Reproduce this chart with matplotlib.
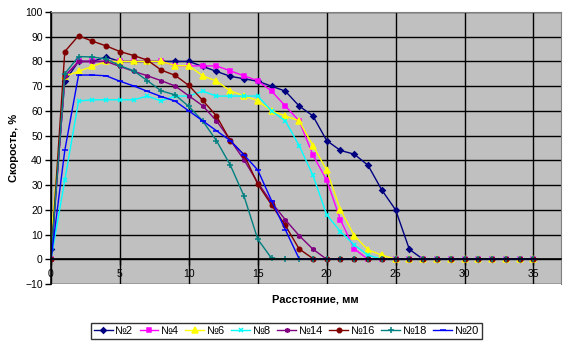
import matplotlib
matplotlib.use("Agg")
import matplotlib.pyplot as plt
import numpy as np

plt.rcParams['font.family'] = ['Liberation Sans', 'DejaVu Sans']

# Расстояние, мм
x = [0, 1, 2, 3, 4, 5, 6, 7, 8, 9, 10, 11, 12, 13, 14, 15, 16, 17, 18,
     19, 20, 21, 22, 23, 24, 25, 26, 27, 28, 29, 30, 31, 32, 33, 34, 35]

# Скорость, % for each sample
s2 = [4, 72, 80, 80, 81.8, 80, 80, 80, 80, 80, 80, 78, 76, 74, 73, 72, 70, 68, 62,
      58, 48, 44, 42.5, 38, 28, 20, 4, 0, 0, 0, 0, 0, 0, 0, 0, 0]
s4 = [0, 74, 80, 80, 80, 80, 80, 80, 80, 78.3, 78.2, 78.2, 78.2, 76.2, 74.2, 72.2, 68, 62, 56,
      42.2, 32, 16, 4.2, 0, 0, 0, 0, 0, 0, 0, 0, 0, 0, 0, 0, 0]
s6 = [8, 74, 76, 78, 80, 80, 80, 80, 80, 78.3, 78.3, 74.2, 72.1, 68.1, 66.1, 64.1, 60, 58, 56,
      46, 36, 20, 9.6, 3.8, 1.7, 0, 0, 0, 0, 0, 0, 0, 0, 0, 0, 0]
s8 = [0, 32, 64, 64.5, 64.5, 64.5, 64.5, 66, 64, 66, 66, 68, 66, 66, 66, 66, 60, 56, 46,
      34, 18, 11.2, 5.8, 1.7, 0, 0, 0, 0, 0, 0, 0, 0, 0, 0, 0, 0]
s14 = [0, 74, 80, 80, 80, 78, 76, 74.2, 72.2, 70.1, 66.1, 62.1, 56, 48.3, 40.2, 31, 23, 16, 9.6,
       4.1, 0, 0, 0, 0, 0, 0, 0, 0, 0, 0, 0, 0, 0, 0, 0, 0]
s16 = [0, 84, 90.4, 88.2, 86.3, 84, 82.4, 80.5, 76.5, 74.4, 70.3, 64.3, 58, 48, 42.3, 30.4, 22, 13.7, 4.2,
       0.3, 0, 0, 0, 0, 0, 0, 0, 0, 0, 0, 0, 0, 0, 0, 0, 0]
s18 = [0, 75, 82, 81.8, 81, 78.3, 76.2, 72.2, 68.1, 66.5, 61.8, 56, 48, 38.2, 25.6, 8.1, 0.4, 0, 0,
       0, 0, 0, 0, 0, 0, 0, 0, 0, 0, 0, 0, 0, 0, 0, 0, 0]
s20 = [0, 44, 74.5, 74.5, 74.2, 72, 70.1, 67.9, 65.8, 64, 60, 56, 52, 48, 42.2, 36.1, 23.7, 12, 0.2,
       0, 0, 0, 0, 0, 0, 0, 0, 0, 0, 0, 0, 0, 0, 0, 0, 0]

names = ['№2', '№4', '№6', '№8', '№14', '№16', '№18', '№20']
series = [s2, s4, s6, s8, s14, s16, s18, s20]
colors = ['#000080', '#FF00FF', '#FFFF00', '#00FFFF', '#800080', '#800000', '#008080', '#0000FF']
markers = ['D', 's', '^', 'x', (6, 2, 0), 'o', '+', '_']
msizes = [2.8, 3.2, 3.8, 3.2, 3.6, 3.2, 4, 4]

fig = plt.figure(figsize=(5.7, 3.44), dpi=100)
ax = fig.add_axes([51 / 570, 1 - 284 / 344, (561 - 51) / 570, (284 - 12) / 344])
ax.set_facecolor('#C0C0C0')

for name, ys, c, m, ms in zip(names, series, colors, markers, msizes):
    ax.plot(x, ys, color=c, lw=1, marker=m, ms=ms, mfc=c, mec=c, mew=1.1, label=name)

ax.set_xlim(0, 37)
ax.set_ylim(-10, 100)
ax.set_xticks(np.arange(0, 36, 5))
ax.set_yticks(np.arange(-10, 101, 10))
ax.grid(True, color='black', lw=1)
ax.set_axisbelow(True)

# x axis crosses at y = 0, labels sit inside the plot area
ax.spines['bottom'].set_position(('data', 0))
ax.spines['bottom'].set_linewidth(1.2)
ax.spines['left'].set_linewidth(1.2)
for side in ['top', 'right']:
    ax.spines[side].set_color('#808080')
ax.tick_params(axis='both', labelsize=7.5, length=4, width=1, direction='out', colors='black')
ax.tick_params(axis='x', pad=3)
ax.tick_params(axis='y', pad=2)

fig.text(14 / 570, 1 - 148 / 344, 'Скорость, %', rotation=90, ha='center', va='center',
         fontsize=8, fontweight='bold')
fig.text(315 / 570, 1 - 300 / 344, 'Расстояние, мм', ha='center', va='center',
         fontsize=8, fontweight='bold')

leg = fig.legend(loc='center', bbox_to_anchor=(286.5 / 570, 1 - 331 / 344), ncol=8,
                 fontsize=8, frameon=True, fancybox=False, handlelength=1.7,
                 handletextpad=0.25, columnspacing=0.55, borderpad=0.25, borderaxespad=0)
leg.get_frame().set_edgecolor('black')
leg.get_frame().set_linewidth(1)

fig.savefig('out.png', dpi=100)
